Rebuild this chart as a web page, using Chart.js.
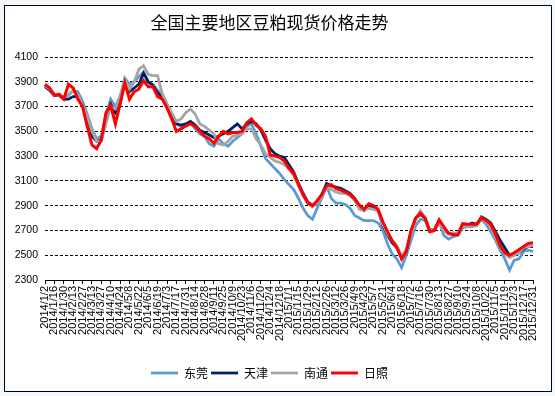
<!DOCTYPE html>
<html>
<head>
<meta charset="utf-8">
<script src="https://cdn.jsdelivr.net/npm/chart.js@4"></script>
<style>
  html, body { margin: 0; padding: 0; background: #f3f6fb; }
  #box { width: 555px; height: 396px; position: relative; }
</style>
</head>
<body>
<div id="box"><canvas id="myChart" width="555" height="396"></canvas></div>
<script>
// weekly dates, labelled every other week
const dates = [
  '2014/1/2', '2014/1/9', '2014/1/16', '2014/1/23', '2014/1/30', '2014/2/6', '2014/2/13', '2014/2/20', '2014/2/27',
  '2014/3/6', '2014/3/13', '2014/3/20', '2014/3/27', '2014/4/3', '2014/4/10', '2014/4/17', '2014/4/24',
  '2014/5/1', '2014/5/8', '2014/5/15', '2014/5/22', '2014/5/29', '2014/6/5', '2014/6/12', '2014/6/19', '2014/6/26',
  '2014/7/3', '2014/7/10', '2014/7/17', '2014/7/24', '2014/7/31', '2014/8/7', '2014/8/14', '2014/8/21', '2014/8/28',
  '2014/9/4', '2014/9/11', '2014/9/18', '2014/9/25', '2014/10/2', '2014/10/9', '2014/10/16', '2014/10/23', '2014/10/30',
  '2014/11/6', '2014/11/13', '2014/11/20', '2014/11/27', '2014/12/4', '2014/12/11', '2014/12/18', '2014/12/25',
  '2015/1/1', '2015/1/8', '2015/1/15', '2015/1/22', '2015/1/29', '2015/2/5', '2015/2/12', '2015/2/19', '2015/2/26',
  '2015/3/5', '2015/3/12', '2015/3/19', '2015/3/26', '2015/4/2', '2015/4/9', '2015/4/16', '2015/4/23', '2015/4/30',
  '2015/5/7', '2015/5/14', '2015/5/21', '2015/5/28', '2015/6/4', '2015/6/11', '2015/6/18', '2015/6/25',
  '2015/7/2', '2015/7/9', '2015/7/16', '2015/7/23', '2015/7/30', '2015/8/6', '2015/8/13', '2015/8/20', '2015/8/27',
  '2015/9/3', '2015/9/10', '2015/9/17', '2015/9/24', '2015/10/1', '2015/10/8', '2015/10/15', '2015/10/22', '2015/10/29',
  '2015/11/5', '2015/11/12', '2015/11/19', '2015/11/26', '2015/12/3', '2015/12/10', '2015/12/17', '2015/12/24', '2015/12/31'
];

const dongguan = [
  3870, 3840, 3800, 3790, 3780, 3790, 3830, 3820, 3740, 3640, 3520, 3440, 3460, 3640, 3760, 3700, 3780, 3930, 3880, 3900,
  3940, 3980, 3900, 3880, 3830, 3800, 3720, 3640, 3560, 3540, 3540, 3570, 3520, 3480, 3460, 3400, 3380, 3440, 3400, 3380,
  3420, 3450, 3480, 3540, 3560, 3480, 3380, 3280, 3240, 3200, 3160, 3110, 3070, 3030, 2960, 2880, 2820, 2790, 2880, 2960,
  3060, 2960, 2920, 2920, 2910, 2880, 2820, 2800, 2780, 2780, 2780, 2760, 2700, 2590, 2510, 2470, 2400, 2500, 2620, 2740,
  2790, 2780, 2690, 2700, 2770, 2660, 2630, 2650, 2660, 2720, 2730, 2730, 2740, 2790, 2750, 2690, 2620, 2540, 2470, 2380,
  2460, 2470, 2530, 2540, 2530
];

const tianjin = [
  3860, 3830, 3790, 3790, 3760, 3760, 3780, 3780, 3720, 3600, 3460, 3420, 3430, 3620, 3720, 3650, 3720, 3900, 3820, 3850,
  3880, 3970, 3900, 3870, 3810, 3780, 3700, 3620, 3560, 3550, 3560, 3580, 3550, 3510, 3490, 3470, 3450, 3460, 3480, 3500,
  3530, 3560, 3520, 3560, 3580, 3560, 3510, 3430, 3360, 3320, 3300, 3290, 3230, 3170, 3080, 3000, 2930, 2900, 2930, 2990,
  3080, 3060, 3050, 3040, 3020, 3000, 2960, 2890, 2860, 2900, 2890, 2860, 2740, 2660, 2600, 2560, 2480, 2530, 2690, 2800,
  2830, 2800, 2700, 2710, 2780, 2720, 2680, 2670, 2670, 2740, 2740, 2760, 2750, 2810, 2790, 2760, 2690, 2620, 2560, 2500,
  2500, 2520, 2550, 2570, 2570
];

const nantong = [
  3870, 3840, 3800, 3790, 3780, 3800, 3830, 3790, 3720, 3620, 3500, 3420, 3420, 3560, 3700, 3680, 3780, 3920, 3840, 3900,
  4000, 4030, 3960, 3950, 3950, 3800, 3720, 3650, 3580, 3600, 3650, 3680, 3640, 3560, 3540, 3510, 3480, 3400, 3390, 3420,
  3460, 3470, 3480, 3520, 3520, 3440, 3390, 3320, 3290, 3260, 3250, 3230, 3200, 3140, 3060, 2980, 2920, 2890, 2920, 2970,
  3050, 3030, 3010, 3000, 3000, 2980, 2940, 2870, 2860, 2880, 2870, 2860, 2750, 2670, 2620, 2580, 2490, 2550, 2660, 2790,
  2860, 2800, 2700, 2710, 2760, 2700, 2670, 2680, 2680, 2730, 2730, 2740, 2740, 2800, 2770, 2730, 2640, 2560, 2510, 2480,
  2500, 2520, 2560, 2570, 2580
];

const rizhao = [
  3880, 3850, 3790, 3800, 3760, 3880, 3850, 3760, 3700, 3540, 3390, 3360, 3430, 3650, 3710, 3560, 3720, 3890, 3760, 3820,
  3840, 3910, 3860, 3860, 3780, 3760, 3690, 3600, 3500, 3520, 3545, 3560, 3540, 3500, 3460, 3440, 3405, 3460, 3500, 3480,
  3490, 3490, 3500, 3570, 3600, 3550, 3520, 3460, 3310, 3300, 3290, 3260, 3200, 3160, 3075, 2990, 2920, 2900, 2940, 2990,
  3060, 3070, 3040, 3025, 3010, 2990, 2955, 2905, 2870, 2915, 2900, 2870, 2770, 2690, 2615, 2560, 2470, 2530, 2700, 2800,
  2840, 2800, 2690, 2700, 2785, 2730, 2675, 2665, 2665, 2755, 2750, 2750, 2750, 2800, 2780, 2750, 2670, 2575, 2520, 2500,
  2520, 2545, 2570, 2595, 2600
];

const seriesNames = ['东莞', '天津', '南通', '日照'];
const seriesColors = ['#5B9BD5', '#002060', '#A5A5A5', '#FF0000'];
const seriesData = [dongguan, tianjin, nantong, rizhao];

const frame = {
  id: 'frame',
  beforeDraw(chart) {
    const c = chart.ctx;
    c.save();
    c.fillStyle = '#ffffff';
    c.fillRect(4.5, 5.5, 547, 386);
    c.strokeStyle = '#000000';
    c.lineWidth = 1;
    c.strokeRect(4.5, 5.5, 547, 386);
    c.restore();
  }
};

const datasets = seriesNames.map((name, i) => ({
  label: name,
  data: seriesData[i],
  borderColor: seriesColors[i],
  backgroundColor: seriesColors[i],
  borderWidth: i === 3 ? 3 : 2.75,
  pointRadius: 0,
  tension: 0,
  fill: false,
  order: 3 - i,
}));

new Chart(document.getElementById('myChart'), {
  type: 'line',
  data: { labels: dates, datasets: datasets },
  plugins: [frame],
  options: {
    responsive: false,
    animation: false,
    events: [],
    layout: { padding: { left: 6, right: 22, top: 10, bottom: 7 } },
    plugins: {
      title: {
        display: true,
        text: '全国主要地区豆粕现货价格走势',
        color: '#000',
        font: { family: '"Noto Sans CJK SC"', size: 17, weight: 'normal' },
        padding: { top: 2, bottom: 24.6 },
      },
      legend: {
        position: 'bottom',
        labels: {
          color: '#000',
          font: { family: '"Noto Sans CJK SC"', size: 12 },
          usePointStyle: true,
          pointStyle: 'line',
          pointStyleWidth: 27,
          padding: 3,
          sort: (a, b) => a.datasetIndex - b.datasetIndex,
        },
      },
      tooltip: { enabled: false },
    },
    scales: {
      x: {
        offset: false,
        afterFit: s => { s.height = 84; },
        grid: {
          drawOnChartArea: false,
          drawTicks: true,
          tickLength: 4,
          color: ctx => (ctx.index % 2 ? 'rgba(0,0,0,0)' : '#000'),
        },
        border: { display: true, color: '#000', width: 1 },
        ticks: {
          autoSkip: false,
          maxRotation: 90,
          minRotation: 90,
          padding: 2,
          color: '#000',
          font: { family: '"Liberation Sans", Arial', size: 11 },
          callback: (v, i) => (i % 2 ? '' : dates[i]),
        },
      },
      y: {
        min: 2300,
        max: 4100,
        afterFit: s => { s.width = 39; },
        grid: {
          drawTicks: false,
          color: ctx => (ctx.tick && ctx.tick.value === 2300 ? 'rgba(0,0,0,0)' : '#000'),
        },
        border: { display: false, dash: [3, 2] },
        ticks: {
          stepSize: 200,
          padding: 7,
          color: '#000',
          font: { family: '"Liberation Sans", Arial', size: 10.5 },
          callback: v => String(v),
        },
      },
    },
  },
});
</script>
</body>
</html>
